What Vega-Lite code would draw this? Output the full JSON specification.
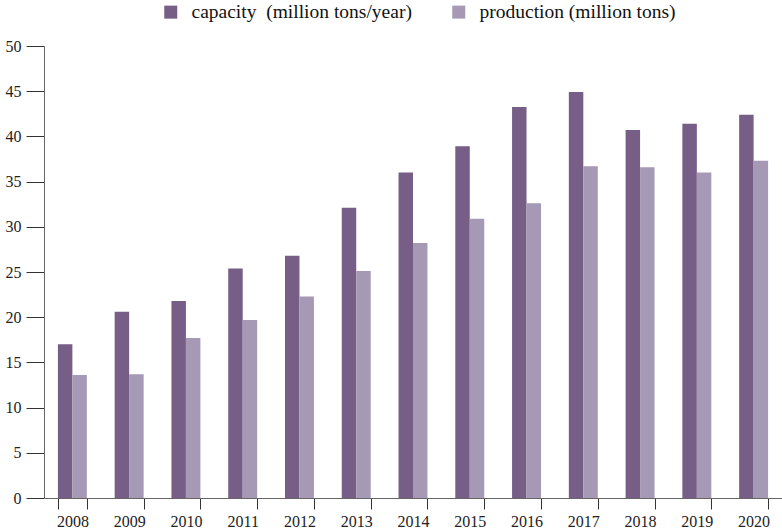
{
  "$schema": "https://vega.github.io/schema/vega-lite/v6.json",
  "width": 738,
  "height": 452,
  "autosize": {"type": "none"},
  "padding": {"left": 44, "top": 46, "right": 0, "bottom": 34},
  "background": "white",
  "config": {
    "view": {"stroke": null},
    "font": "Liberation Serif",
    "legend": {"labelFont": "Liberation Serif"},
    "axis": {"labelFont": "Liberation Serif"}
  },
  "data": {"values": [
    {"year": "2008", "series": "capacity", "value": 17.0},
    {"year": "2008", "series": "production", "value": 13.6},
    {"year": "2009", "series": "capacity", "value": 20.6},
    {"year": "2009", "series": "production", "value": 13.7},
    {"year": "2010", "series": "capacity", "value": 21.8},
    {"year": "2010", "series": "production", "value": 17.7},
    {"year": "2011", "series": "capacity", "value": 25.4},
    {"year": "2011", "series": "production", "value": 19.7},
    {"year": "2012", "series": "capacity", "value": 26.8},
    {"year": "2012", "series": "production", "value": 22.3},
    {"year": "2013", "series": "capacity", "value": 32.1},
    {"year": "2013", "series": "production", "value": 25.1},
    {"year": "2014", "series": "capacity", "value": 36.0},
    {"year": "2014", "series": "production", "value": 28.2},
    {"year": "2015", "series": "capacity", "value": 38.9},
    {"year": "2015", "series": "production", "value": 30.9},
    {"year": "2016", "series": "capacity", "value": 43.25},
    {"year": "2016", "series": "production", "value": 32.6},
    {"year": "2017", "series": "capacity", "value": 44.9},
    {"year": "2017", "series": "production", "value": 36.7},
    {"year": "2018", "series": "capacity", "value": 40.7},
    {"year": "2018", "series": "production", "value": 36.6},
    {"year": "2019", "series": "capacity", "value": 41.4},
    {"year": "2019", "series": "production", "value": 36.0},
    {"year": "2020", "series": "capacity", "value": 42.4},
    {"year": "2020", "series": "production", "value": 37.3}
  ]},
  "mark": {"type": "bar"},
  "encoding": {
    "x": {
      "field": "year", "type": "nominal",
      "scale": {"paddingInner": 0.49, "paddingOuter": 0.245},
      "axis": {
        "title": null, "labelAngle": 0, "tickBand": "extent",
        "labelFont": "Liberation Serif", "labelFontSize": 16, "labelColor": "#222",
        "tickSize": 11, "tickColor": "#333", "domainColor": "#666", "labelPadding": 4
      }
    },
    "xOffset": {"field": "series", "type": "nominal"},
    "y": {
      "field": "value", "type": "quantitative",
      "scale": {"domain": [0, 50], "nice": false},
      "axis": {
        "title": null, "values": [0, 5, 10, 15, 20, 25, 30, 35, 40, 45, 50], "grid": false,
        "labelFont": "Liberation Serif", "labelFontSize": 16, "labelColor": "#222",
        "tickSize": 18, "tickColor": "#333", "domainColor": "#666", "labelPadding": 5
      }
    },
    "color": {
      "field": "series", "type": "nominal",
      "scale": {"domain": ["capacity", "production"], "range": ["#765e87", "#a699b5"]},
      "legend": {
        "title": null, "orient": "none", "direction": "horizontal",
        "legendX": 117, "legendY": -44,
        "symbolType": "square", "symbolSize": 169, "symbolStrokeWidth": 0,
        "labelFont": "Liberation Serif", "labelFontSize": 19.5, "labelColor": "#111",
        "labelOffset": 11, "columnPadding": 37, "labelLimit": 400,
        "labelExpr": "datum.label == 'capacity' ? 'capacity\u00a0 (million tons/year)' : 'production (million tons)'"
      }
    }
  }
}
